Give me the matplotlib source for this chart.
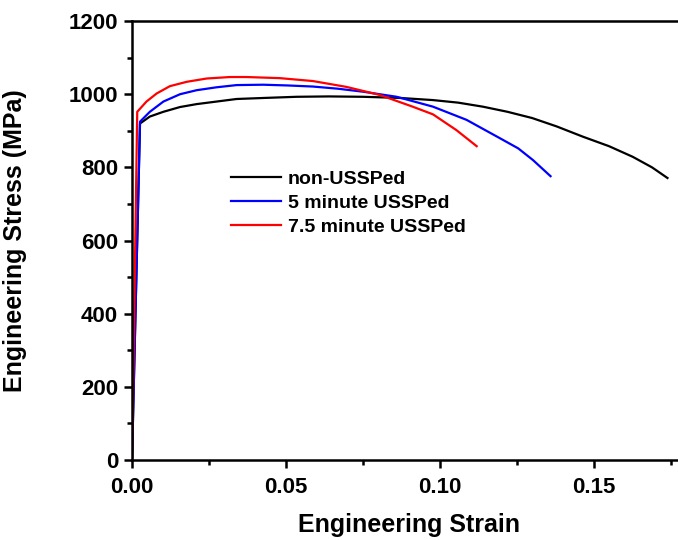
import matplotlib
matplotlib.use("Agg")
import matplotlib.pyplot as plt
from matplotlib.ticker import MultipleLocator, FormatStrFormatter

# 곡선 데이터
strain_non = [0.0, 0.0026, 0.0058, 0.0102, 0.0156, 0.021, 0.0275, 0.034, 0.0435, 0.0535, 0.064, 0.075,
              0.0868, 0.0978, 0.106, 0.114, 0.122, 0.130, 0.138, 0.1465, 0.155, 0.1627, 0.169, 0.174]
stress_non = [0, 920, 939, 952, 965, 973, 980, 987, 990, 993, 994, 993,
              990, 984, 977, 966, 952, 935, 912, 884, 858, 829, 800, 771]

strain_5min = [0.0, 0.0026, 0.0058, 0.0102, 0.0156, 0.021, 0.0275, 0.034, 0.0426, 0.0505, 0.0588,
               0.067, 0.075, 0.086, 0.0978, 0.1087, 0.1195, 0.1255, 0.1303, 0.136]
stress_5min = [0, 925, 952, 980, 1000, 1011, 1019, 1025, 1026, 1024, 1021,
               1015, 1007, 993, 966, 930, 880, 852, 820, 776]

strain_75min = [0.0, 0.0017, 0.0047, 0.008, 0.0123, 0.0178, 0.0243, 0.0318, 0.0372, 0.048, 0.0588,
                0.0697, 0.0805, 0.0912, 0.0978, 0.1054, 0.112]
stress_75min = [0, 952, 980, 1002, 1022, 1034, 1043, 1047, 1047, 1044, 1036,
                1020, 998, 966, 945, 902, 858]

labels = ["non-USSPed", "5 minute USSPed", "7.5 minute USSPed"]
colors = ["black", "blue", "red"]

plt.rcParams["font.family"] = ["Liberation Sans", "DejaVu Sans"]
plt.rcParams["font.weight"] = "bold"

fig = plt.figure(figsize=(6.78, 5.4), dpi=100)
ax = fig.add_axes([0.1947, 0.148, 0.817, 0.813])

series = [(strain_non, stress_non), (strain_5min, stress_5min), (strain_75min, stress_75min)]
for (x, y), c, lab in zip(series, colors, labels):
    ax.plot(x, y, color=c, lw=1.6, label=lab, solid_joinstyle="round")

ax.set_xlim(0, 0.18)
ax.set_ylim(0, 1200)
ax.xaxis.set_major_locator(MultipleLocator(0.05))
ax.xaxis.set_minor_locator(MultipleLocator(0.025))
ax.yaxis.set_major_locator(MultipleLocator(200))
ax.yaxis.set_minor_locator(MultipleLocator(100))
ax.xaxis.set_major_formatter(FormatStrFormatter("%.2f"))

for s in ax.spines.values():
    s.set_linewidth(1.8)
ax.tick_params(which="major", direction="out", length=6, width=1.8, labelsize=16, pad=4)
ax.tick_params(axis="x", which="major", pad=6)
ax.tick_params(which="minor", direction="out", length=3.5, width=1.8)
for lab in ax.get_xticklabels() + ax.get_yticklabels():
    lab.set_fontweight("bold")

ax.set_xlabel("Engineering Strain", fontsize=18, fontweight="bold", labelpad=11)
ax.set_ylabel("Engineering Stress (MPa)", fontsize=18, fontweight="bold", labelpad=30)

ax.legend(loc="upper left", bbox_to_anchor=(0.178, 0.66), frameon=False,
          prop={"size": 14, "weight": "bold"}, handlelength=2.6,
          handletextpad=0.35, labelspacing=0.32, borderpad=0, borderaxespad=0)

fig.savefig("out.png", dpi=100)
